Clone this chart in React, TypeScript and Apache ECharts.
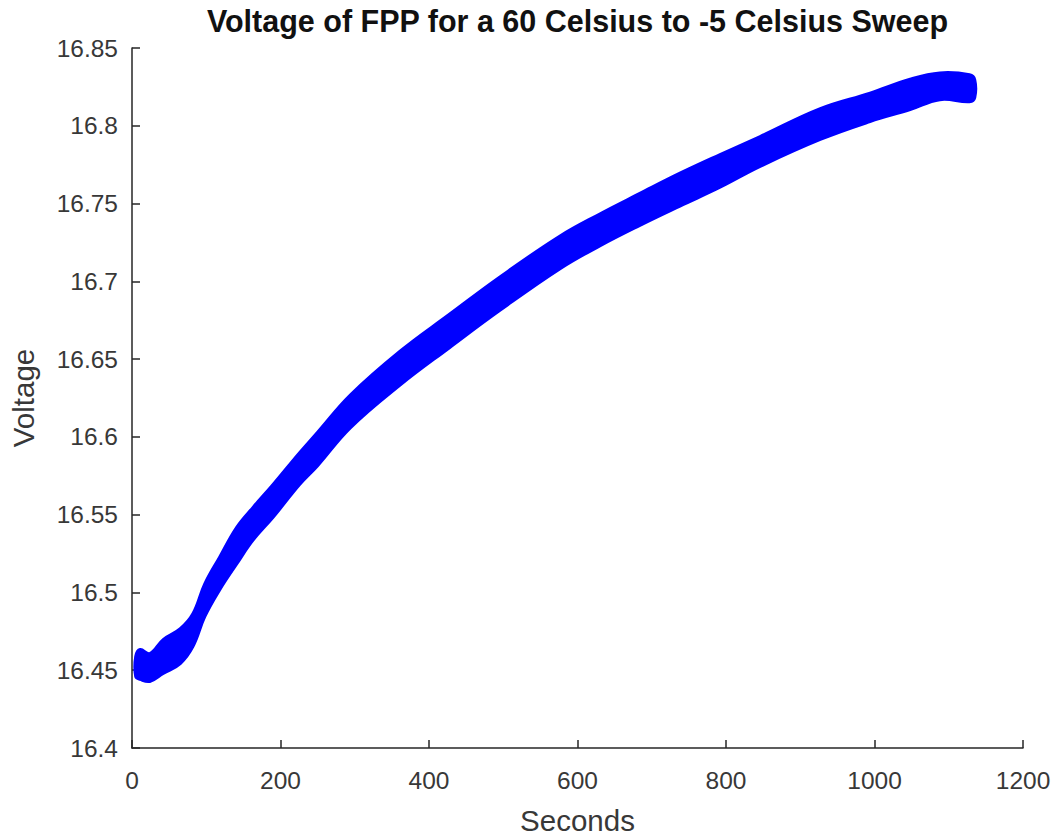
import React, { useEffect, useRef } from "react";
import * as echarts from "echarts";

const TITLE = "Voltage of FPP for a 60 Celsius to -5 Celsius Sweep";
const X_NAME = "Seconds";
const Y_NAME = "Voltage";

// Time (s) at which the upper and lower edges of the noisy measured band were read
const seconds = [5, 11, 24, 42, 65, 82, 98, 118, 141, 163, 190, 226, 250, 294, 361, 428, 496, 576, 630, 684, 738, 792, 846, 927, 994, 1048, 1088, 1128, 1135];
// Upper edge of the measured voltage band (V)
const upperVoltage = [16.4588, 16.4633, 16.4607, 16.4697, 16.4767, 16.4863, 16.5055, 16.5227, 16.5419, 16.5547, 16.5694, 16.5900, 16.6030, 16.6269, 16.6551, 16.6790, 16.7030, 16.7290, 16.7433, 16.7565, 16.7695, 16.7815, 16.7931, 16.8110, 16.8210, 16.8300, 16.8340, 16.8328, 16.8296];
// Lower edge of the measured voltage band (V)
const lowerVoltage = [16.446, 16.4441, 16.4428, 16.4479, 16.4543, 16.4652, 16.4844, 16.5016, 16.5183, 16.5336, 16.5483, 16.5695, 16.5815, 16.6058, 16.6333, 16.6575, 16.6815, 16.708, 16.7228, 16.736, 16.7484, 16.7605, 16.7739, 16.7912, 16.8027, 16.8104, 16.8168, 16.8155, 16.8181];

const X_MIN = 0;
const X_MAX = 1200;
const X_STEP = 200;
const Y_MIN = 16.4;
const Y_MAX = 16.85;
const Y_STEP = 0.05;

export default function App() {
  const ref = useRef<HTMLDivElement>(null);

  useEffect(() => {
    if (!ref.current) return;
    const chart = echarts.init(ref.current, null, { renderer: "svg" });
    const axisColor = "#262626";
    const textColor = "#383838";
    const font = "Liberation Sans, Arial, Helvetica, sans-serif";

    const axisCommon = {
      axisLine: { show: true, onZero: false, lineStyle: { color: axisColor, width: 1.5 } },
      axisTick: { show: true, inside: true, length: 8, lineStyle: { color: axisColor, width: 1.5 } },
      splitLine: { show: false },
      nameTextStyle: { fontFamily: font, fontSize: 29.5, color: textColor },
    };

    chart.setOption({
      animation: false,
      backgroundColor: "#ffffff",
      grid: { left: 132, right: 37, top: 48, bottom: 88 },
      graphic: [
        {
          type: "text",
          x: 577.5,
          y: 21.4,
          style: {
            text: TITLE,
            fontFamily: font,
            fontWeight: "bold",
            fontSize: 30.5,
            fill: "#111111",
            textAlign: "center",
            textVerticalAlign: "middle",
          },
        },
      ],
      xAxis: {
        type: "value",
        min: X_MIN,
        max: X_MAX,
        interval: X_STEP,
        name: X_NAME,
        nameLocation: "middle",
        nameGap: 57,
        ...axisCommon,
        axisLabel: {
          margin: 20,
          fontFamily: font,
          fontSize: 24.5,
          color: textColor,
          formatter: (v: number) => String(Math.round(v)),
        },
      },
      yAxis: {
        type: "value",
        min: Y_MIN,
        max: Y_MAX,
        interval: Y_STEP,
        name: Y_NAME,
        nameLocation: "middle",
        nameGap: 94,
        ...axisCommon,
        axisLabel: {
          margin: 14,
          fontFamily: font,
          fontSize: 24.5,
          color: textColor,
          formatter: (v: number) => String(+v.toFixed(2)),
        },
      },
      series: [
        {
          type: "custom",
          silent: true,
          data: [[seconds[0], upperVoltage[0]]],
          renderItem: (_params: any, api: any) => {
            const pts: number[][] = [];
            for (let i = 0; i < seconds.length; i++) {
              pts.push(api.coord([seconds[i], upperVoltage[i]]));
            }
            for (let i = seconds.length - 1; i >= 0; i--) {
              pts.push(api.coord([seconds[i], lowerVoltage[i]]));
            }
            return {
              type: "polygon",
              shape: { points: pts, smooth: 0.4 },
              style: { fill: "#0000ff", stroke: "#0000ff", lineWidth: 3, lineJoin: "round" },
            };
          },
        },
      ],
    });

    return () => chart.dispose();
  }, []);

  return (
    <div
      ref={ref}
      style={{ position: "absolute", left: 0, top: 0, width: 1060, height: 840, background: "#fff" }}
    />
  );
}
